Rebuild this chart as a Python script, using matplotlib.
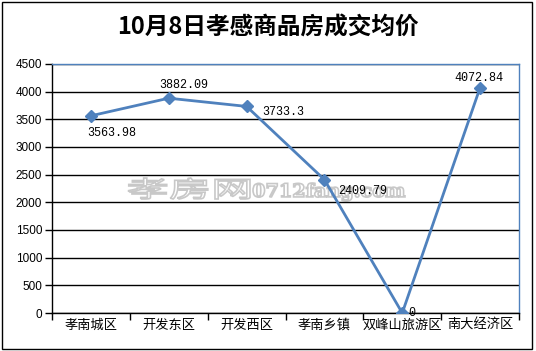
import matplotlib.pyplot as plt
from matplotlib.patches import Rectangle, PathPatch
from matplotlib.textpath import TextPath
from matplotlib.font_manager import FontProperties
from matplotlib.transforms import Affine2D, IdentityTransform

# data
districts = ['孝南城区', '开发东区', '开发西区', '孝南乡镇', '双峰山旅游区', '南大经济区']
avg_price = [3563.98, 3882.09, 3733.3, 2409.79, 0, 4072.84]
price_labels = ['3563.98', '3882.09', '3733.3', '2409.79', '0', '4072.84']
yticks = [0, 500, 1000, 1500, 2000, 2500, 3000, 3500, 4000, 4500]

W, H = 536, 351
fig = plt.figure(figsize=(W / 100, H / 100), dpi=100)
cjk = ['Noto Sans CJK SC', 'DejaVu Sans']
line_color = '#4F81BD'


def watermark(ax, s, family, weight, box):
    # squeeze a text outline into a pixel box (x0, y0, x1, y1), top-left origin
    tp = TextPath((0, 0), s, size=20, prop=FontProperties(family=family, weight=weight))
    ext = tp.get_extents()
    x0, y0, x1, y1 = box
    sx = (x1 - x0) / ext.width
    sy = (y1 - y0) / ext.height
    tr = Affine2D().translate(-ext.x0, -ext.y0).scale(sx, sy).translate(x0, H - y1)
    p = PathPatch(tr.transform_path(tp), transform=IdentityTransform(), facecolor='white',
                  edgecolor='#c8c8c8', linewidth=1.2, zorder=0.2, clip_on=False)
    ax.add_patch(p)


# outer frame
fig.patches.append(Rectangle((2 / W, 2 / H), 530 / W, 347 / H, transform=fig.transFigure,
                             fill=False, edgecolor='black', linewidth=1.0))

fig.text(268 / W, 1 - 28 / H, '10月8日孝感商品房成交均价', ha='center', va='center',
         fontsize=17, fontweight='bold', family=cjk, color='black')

left, right, top, bottom = 52, 519, 64, 313
ax = fig.add_axes([left / W, 1 - bottom / H, (right - left) / W, (bottom - top) / H])

x = list(range(len(districts)))
ax.plot(x, avg_price, color=line_color, linewidth=2, marker='D', markersize=6,
        markerfacecolor=line_color, markeredgecolor=line_color, zorder=5)

ax.set_xlim(-0.5, len(districts) - 0.5)
ax.set_ylim(0, 4500)
ax.set_yticks(yticks)
ax.set_yticklabels([str(v) for v in yticks], fontsize=8.5, family='Liberation Sans')
ax.yaxis.grid(True, color='black', linewidth=1)
ax.set_axisbelow(True)

watermark(ax, '孝房网', 'Noto Sans CJK SC', 'normal', (128, 178, 250, 199))
watermark(ax, '0712fang.com', 'DejaVu Serif', 'bold', (253, 183, 405, 201))

ax.set_xticks([i - 0.5 for i in range(len(districts) + 1)])
ax.set_xticklabels([])
ax.set_xticks(x, minor=True)
ax.set_xticklabels(districts, minor=True, fontsize=9.5, family=cjk)
ax.tick_params(axis='x', which='minor', length=0, pad=4)
ax.tick_params(axis='x', which='major', length=5, width=1, direction='out')
ax.tick_params(axis='y', length=5, width=1, direction='out', pad=2)

for s in ['left', 'bottom']:
    ax.spines[s].set_color('black')
    ax.spines[s].set_linewidth(1)
for s in ['top', 'right']:
    ax.spines[s].set_color(line_color)
    ax.spines[s].set_linewidth(1)

# data labels (offset in category units / price units)
offsets = [(-0.05, -320), (-0.12, 240), (0.2, -100), (0.18, -210), (0.08, 0), (-0.33, 180)]
for i, (dx, dy) in enumerate(offsets):
    ax.text(x[i] + dx, avg_price[i] + dy, price_labels[i], fontsize=8.5,
            family='Liberation Mono', ha='left', va='center', color='black', zorder=6)

fig.savefig('out.png', dpi=100)
